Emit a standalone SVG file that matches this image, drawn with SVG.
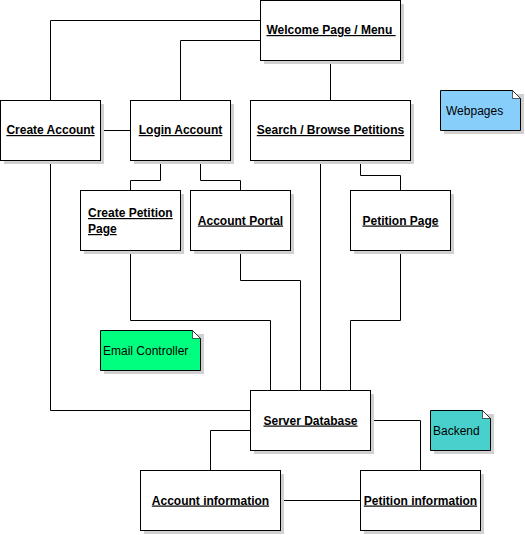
<svg xmlns="http://www.w3.org/2000/svg" width="525" height="535" viewBox="0 0 525 535">
<style>
.box{fill:#fff;stroke:#000;stroke-width:1}
.sh{fill:#d0d0d0}
.lbl{font-family:"Liberation Sans",Arial,sans-serif;font-size:12px;font-weight:bold;text-decoration:underline;fill:#000}
.c{text-anchor:middle}
.nt{font-family:"Liberation Sans",Arial,sans-serif;font-size:12px;fill:#000}
.wire{fill:none;stroke:#000;stroke-width:1}
.fold{fill:#fff;stroke:#000;stroke-width:0.6}
</style>
<rect width="525" height="535" fill="#fff"/>
<g id="connectors" class="wire">
<path d="M260.5 20.5H50.5V100.5"/>
<path d="M260.5 40.5H180.5V100.5"/>
<path d="M330.5 60.5V100.5"/>
<path d="M100.5 130.5H130.5"/>
<path d="M160.5 160.5V180.5H130.5V190.5"/>
<path d="M200.5 160.5V180.5H240.5V190.5"/>
<path d="M360.5 160.5V175.5H400.5V190.5"/>
<path d="M50.5 160.5V410.5H250.5"/>
<path d="M320.5 160.5V390.5"/>
<path d="M130.5 250.5V320.5H270.5V390.5"/>
<path d="M240.5 250.5V280.5H300.5V390.5"/>
<path d="M400.5 250.5V320.5H350.5V390.5"/>
<path d="M250.5 430.5H210.5V470.5"/>
<path d="M370.5 420.5H420.5V470.5"/>
<path d="M280.5 500.5H360.5"/>
</g>
<g id="welcome">
<rect class="sh" x="264" y="4" width="140" height="60"/>
<rect class="box" x="260.5" y="0.5" width="140" height="60"/>
<text class="lbl c" x="331" y="34" xml:space="preserve">Welcome Page / Menu </text>
</g>
<g id="create-account">
<rect class="sh" x="4" y="104" width="100" height="60"/>
<rect class="box" x="0.5" y="100.5" width="100" height="60"/>
<text class="lbl c" x="50.5" y="134">Create Account</text>
</g>
<g id="login-account">
<rect class="sh" x="134" y="104" width="100" height="60"/>
<rect class="box" x="130.5" y="100.5" width="100" height="60"/>
<text class="lbl c" x="180.5" y="134">Login Account</text>
</g>
<g id="search-browse">
<rect class="sh" x="254" y="104" width="160" height="60"/>
<rect class="box" x="250.5" y="100.5" width="160" height="60"/>
<text class="lbl c" x="330.5" y="134">Search / Browse Petitions</text>
</g>
<g id="create-petition">
<rect class="sh" x="84" y="194" width="100" height="60"/>
<rect class="box" x="80.5" y="190.5" width="100" height="60"/>
<text class="lbl" x="88" y="217">Create Petition</text>
<text class="lbl" x="88" y="233">Page</text>
</g>
<g id="account-portal">
<rect class="sh" x="194" y="194" width="100" height="60"/>
<rect class="box" x="190.5" y="190.5" width="100" height="60"/>
<text class="lbl c" x="240.5" y="224.5">Account Portal</text>
</g>
<g id="petition-page">
<rect class="sh" x="354" y="194" width="100" height="60"/>
<rect class="box" x="350.5" y="190.5" width="100" height="60"/>
<text class="lbl c" x="400.5" y="224.5">Petition Page</text>
</g>
<g id="server-database">
<rect class="sh" x="254" y="394" width="120" height="60"/>
<rect class="box" x="250.5" y="390.5" width="120" height="60"/>
<text class="lbl c" x="310.5" y="424.5">Server Database</text>
</g>
<g id="account-information">
<rect class="sh" x="144" y="474" width="140" height="60"/>
<rect class="box" x="140.5" y="470.5" width="140" height="60"/>
<text class="lbl c" x="210.5" y="504.5">Account information</text>
</g>
<g id="petition-information">
<rect class="sh" x="364" y="474" width="120" height="60"/>
<rect class="box" x="360.5" y="470.5" width="120" height="60"/>
<text class="lbl c" x="420.5" y="504.5">Petition information</text>
</g>
<g id="note-webpages">
<rect class="sh" x="444" y="94" width="80" height="40"/>
<path d="M440.5 90.5H512.5L520.5 98.5V130.5H440.5Z" fill="#87cefa" stroke="#000"/>
<path class="fold" d="M512.5 90.5V98.5H520.5Z"/>
<text class="nt" x="446" y="115">Webpages</text>
</g>
<g id="note-email">
<rect class="sh" x="104" y="334" width="100" height="40"/>
<path d="M100.5 330.5H192.5L200.5 338.5V370.5H100.5Z" fill="#00ff7f" stroke="#000"/>
<path class="fold" d="M192.5 330.5V338.5H200.5Z"/>
<text class="nt" x="103" y="355">Email Controller</text>
</g>
<g id="note-backend">
<rect class="sh" x="434" y="414" width="60" height="40"/>
<path d="M430.5 410.5H482.5L490.5 418.5V450.5H430.5Z" fill="#48d1cc" stroke="#000"/>
<path class="fold" d="M482.5 410.5V418.5H490.5Z"/>
<text class="nt" x="433" y="435">Backend</text>
</g>
</svg>
